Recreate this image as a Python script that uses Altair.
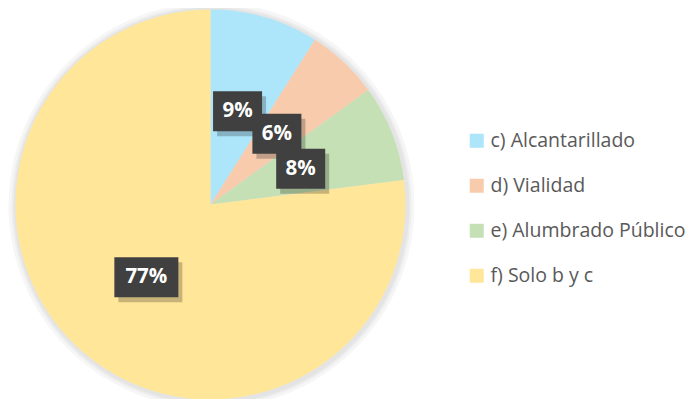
import altair as alt
import pandas as pd

categories = ["c) Alcantarillado", "d) Vialidad", "e) Alumbrado Público", "f) Solo b y c"]
values = [9, 6, 8, 77]
labels = ["9%", "6%", "8%", "77%"]
colors = ["#ADE5FA", "#F8CBAD", "#C5E0B4", "#FFE699"]

df = pd.DataFrame({"cat": categories, "value": values, "label": labels,
                   "idx": list(range(len(categories)))})

CX, CY, R = 202.5, 196.5, 195
LR = 97

base = alt.Chart(df)

shadows = [
    base.mark_arc(outerRadius=R + d, color="#000000", opacity=0.035).encode(
        theta=alt.Theta("value:Q", stack=True), order=alt.Order("idx:Q"),
        x=alt.value(CX + 1), y=alt.value(CY + 1))
    for d in (8, 5, 3)
]

pie = base.mark_arc(outerRadius=R).encode(
    theta=alt.Theta("value:Q", stack=True),
    order=alt.Order("idx:Q"),
    color=alt.Color("cat:N", scale=alt.Scale(domain=categories, range=colors),
                    legend=alt.Legend(title=None, orient="none", legendX=459, legendY=123,
                                      symbolType="square", symbolSize=196,
                                      symbolStrokeWidth=0, labelFontSize=19.5,
                                      labelFont="Open Sans", labelColor="#595959",
                                      labelOffset=4, rowPadding=24, padding=0,
                                      labelLimit=300)),
    x=alt.value(CX), y=alt.value(CY),
)

pos = base.transform_joinaggregate(total="sum(value)").transform_window(
    cum="sum(value)", sort=[alt.SortField("idx")], frame=[None, 0]
).transform_calculate(
    mid=f"(datum.cum - datum.value/2)/datum.total*2*PI",
).transform_calculate(
    cx=f"{CX} + {LR}*sin(datum.mid)",
    cy=f"{CY} - {LR}*cos(datum.mid)",
    w="19 + 15*length(datum.label)",
).transform_calculate(
    x1="datum.cx - datum.w/2", x2="datum.cx + datum.w/2",
    y1="datum.cy - 20", y2="datum.cy + 20",
    sx1="datum.cx - datum.w/2 + 4", sx2="datum.cx + datum.w/2 + 4",
    sy1="datum.cy - 20 + 5", sy2="datum.cy + 20 + 5",
)

box_shadow = pos.mark_rect(color="#000000", opacity=0.22).encode(
    x=alt.X("sx1:Q", scale=None, axis=None), x2="sx2:Q",
    y=alt.Y("sy1:Q", scale=None, axis=None), y2="sy2:Q")

box = pos.mark_rect(color="#404040").encode(
    x=alt.X("x1:Q", scale=None, axis=None), x2="x2:Q",
    y=alt.Y("y1:Q", scale=None, axis=None), y2="y2:Q")

txt = pos.mark_text(color="white", fontWeight="bold", fontSize=20.5, font="Open Sans",
                    baseline="middle", align="center").encode(
    x=alt.X("cx:Q", scale=None, axis=None), y=alt.Y("cy:Q", scale=None, axis=None),
    text="label:N")

chart = alt.layer(*shadows, pie, box_shadow, box, txt).properties(
    width=681, height=391, padding=0, background="white",
    autosize=alt.AutoSizeParams(type="none")
).configure_view(strokeWidth=0, stroke="transparent")

chart.save("out.html", embed_options={"renderer": "svg", "actions": False})
